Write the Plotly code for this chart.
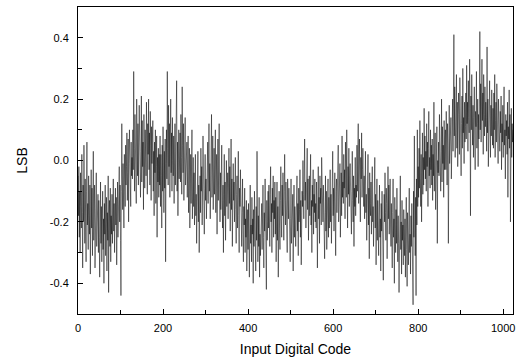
import plotly.graph_objects as go

# DNL-like error per input code (LSB), 16 codes per row
lsb = [
 -0.05,-0.18,-0.02,-0.25,-0.10,-0.30,-0.04,-0.15,-0.22,0.02,-0.17,-0.35,-0.08,-0.20,0.05,-0.12,
 -0.27,-0.06,-0.19,-0.33,-0.10,0.06,-0.21,-0.14,-0.29,-0.05,-0.18,-0.24,-0.08,-0.37,-0.12,-0.03,
 -0.22,-0.09,-0.31,-0.14,0.03,-0.26,-0.18,-0.08,-0.35,-0.12,-0.20,-0.04,-0.28,-0.16,-0.23,-0.11,
 -0.30,-0.13,-0.25,-0.38,-0.18,-0.07,-0.27,-0.15,-0.33,-0.22,-0.10,-0.29,-0.19,-0.40,-0.14,-0.24,
 -0.08,-0.31,-0.21,-0.12,-0.36,-0.17,-0.26,-0.05,-0.43,-0.20,-0.13,-0.28,-0.09,-0.33,-0.18,-0.24,
 -0.11,-0.27,-0.19,-0.06,-0.23,-0.14,-0.30,-0.16,-0.09,-0.21,-0.12,-0.34,-0.15,-0.07,-0.25,-0.18,
 -0.13,-0.02,-0.20,-0.08,-0.26,-0.44,-0.10,0.12,-0.05,-0.16,-0.01,-0.12,-0.22,0.02,-0.07,-0.15,
 0.05,-0.08,-0.02,0.09,-0.13,-0.04,0.07,-0.20,-0.01,0.10,-0.09,0.03,-0.15,0.06,-0.05,0.01,
 -0.06,0.10,-0.03,0.29,0.04,-0.10,0.15,-0.02,0.08,-0.14,0.20,0.01,-0.05,0.12,-0.08,0.06,
 0.18,-0.04,0.09,-0.12,0.03,0.21,-0.07,0.13,-0.02,0.06,-0.16,0.15,0.00,-0.09,0.10,0.04,
 -0.05,0.19,0.07,-0.11,0.12,0.02,0.20,-0.03,0.09,-0.08,0.16,0.05,-0.13,0.11,-0.01,0.07,
 0.13,-0.10,0.03,-0.18,0.06,-0.04,0.10,-0.14,-0.02,0.08,-0.25,0.01,-0.07,0.04,-0.12,0.02,
 -0.08,0.08,-0.15,0.02,-0.05,-0.22,0.05,-0.10,0.11,-0.03,-0.17,0.03,-0.09,0.07,-0.33,-0.01,
 0.10,-0.06,0.29,0.04,-0.08,0.18,-0.02,0.12,-0.12,0.06,0.20,-0.04,0.09,-0.10,0.14,0.00,
 -0.05,0.08,-0.14,0.03,0.12,-0.08,0.05,-0.02,0.26,-0.10,0.06,-0.18,0.02,0.10,-0.06,0.04,
 0.09,-0.07,0.15,0.01,-0.11,0.24,0.05,-0.04,0.12,-0.13,0.07,0.00,0.14,-0.08,0.03,-0.02,
 0.06,-0.12,-0.02,0.08,-0.17,-0.05,0.04,-0.22,-0.08,0.02,-0.14,-0.03,0.10,-0.19,-0.06,0.01,
 -0.15,-0.04,-0.21,-0.09,0.02,-0.18,-0.11,-0.27,-0.06,-0.14,0.03,-0.20,-0.08,-0.30,-0.12,-0.05,
 -0.17,0.04,-0.10,-0.02,-0.21,-0.07,0.08,-0.15,-0.04,-0.24,-0.09,0.02,-0.13,-0.06,-0.19,0.00,
 -0.08,0.06,-0.14,-0.03,0.12,-0.10,-0.01,-0.19,0.05,-0.07,0.15,-0.12,-0.04,0.08,-0.16,-0.02,
 0.04,-0.11,-0.03,0.10,-0.17,-0.06,0.02,-0.24,-0.09,0.07,-0.13,-0.01,0.12,-0.08,-0.20,-0.04,
 -0.16,-0.05,0.05,-0.13,-0.22,-0.08,-0.30,-0.11,0.02,-0.18,-0.07,-0.26,-0.10,0.00,-0.15,-0.09,
 -0.04,-0.19,-0.09,0.04,-0.14,-0.02,-0.23,-0.10,0.07,-0.16,-0.06,-0.28,-0.11,-0.01,-0.13,-0.07,
 -0.20,-0.08,0.01,-0.16,-0.27,-0.11,-0.05,-0.22,-0.14,0.03,-0.18,-0.30,-0.09,-0.15,-0.03,-0.21,
 -0.12,-0.28,-0.17,-0.06,-0.24,-0.33,-0.15,-0.21,-0.09,-0.30,-0.19,-0.25,-0.13,-0.36,-0.22,-0.16,
 -0.29,-0.14,-0.25,-0.38,-0.18,-0.08,-0.27,-0.21,-0.33,-0.12,-0.24,-0.19,-0.40,-0.16,-0.28,-0.10,
 -0.30,-0.20,-0.36,-0.15,-0.26,0.03,-0.22,-0.33,-0.18,-0.28,-0.12,-0.38,-0.24,-0.31,-0.19,-0.27,
 -0.14,-0.29,-0.21,-0.08,-0.25,-0.35,-0.17,-0.23,-0.06,-0.31,-0.19,-0.42,-0.13,-0.26,-0.20,-0.10,
 -0.22,-0.08,-0.18,-0.28,-0.11,-0.02,-0.20,-0.14,-0.30,-0.09,-0.17,-0.05,-0.25,-0.13,-0.19,-0.07,
 -0.24,-0.12,-0.33,-0.18,-0.07,-0.26,-0.15,-0.38,-0.20,-0.10,-0.22,-0.29,-0.13,-0.02,-0.19,-0.25,
 -0.08,-0.18,-0.04,-0.15,-0.26,-0.10,0.02,-0.13,-0.21,-0.07,-0.17,-0.11,-0.30,-0.06,-0.14,-0.19,
 -0.09,-0.24,-0.14,-0.33,-0.19,-0.06,-0.27,-0.16,-0.22,-0.11,-0.36,-0.18,-0.08,-0.25,-0.15,-0.21,
 -0.28,-0.12,-0.19,-0.05,-0.23,-0.14,-0.31,-0.09,-0.20,-0.16,-0.03,-0.25,-0.13,-0.34,-0.18,-0.10,
 -0.15,0.00,-0.11,-0.19,-0.04,0.07,-0.13,-0.07,-0.22,-0.02,-0.10,0.04,-0.16,-0.06,-0.26,-0.09,
 -0.05,-0.18,-0.10,0.02,-0.21,-0.13,-0.30,-0.08,-0.15,-0.03,-0.24,-0.11,-0.17,-0.06,-0.20,-0.14,
 -0.22,-0.07,-0.16,-0.35,-0.10,-0.02,-0.19,-0.12,-0.27,-0.05,-0.14,-0.09,-0.21,0.01,-0.15,-0.11,
 -0.20,-0.08,-0.26,-0.13,-0.32,-0.17,-0.05,-0.23,-0.10,-0.29,-0.15,-0.19,-0.06,-0.25,-0.12,-0.22,
 -0.16,-0.03,-0.20,-0.11,-0.27,-0.07,-0.14,0.03,-0.18,-0.09,-0.23,-0.12,-0.04,-0.19,-0.31,-0.10,
 -0.06,-0.17,-0.02,-0.13,0.05,-0.20,-0.09,-0.15,-0.01,-0.25,-0.11,-0.04,-0.18,0.08,-0.12,-0.07,
 -0.14,0.02,-0.09,-0.03,-0.19,0.06,-0.06,-0.12,0.10,-0.08,-0.22,-0.02,-0.11,0.04,-0.15,-0.05,
 -0.01,-0.16,-0.07,-0.24,-0.10,0.03,-0.13,-0.20,-0.05,-0.28,-0.09,-0.15,0.01,-0.18,-0.08,-0.12,
 0.05,-0.10,-0.02,0.12,-0.14,-0.04,0.07,-0.09,-0.20,0.01,-0.06,0.09,-0.12,-0.03,0.04,-0.08,
 -0.15,-0.05,-0.19,-0.08,0.03,-0.17,-0.11,-0.26,-0.06,-0.13,0.02,-0.21,-0.09,-0.32,-0.04,-0.14,
 -0.18,-0.07,-0.24,-0.12,-0.02,-0.20,-0.15,-0.28,-0.09,-0.16,0.01,-0.22,-0.11,-0.34,-0.14,-0.06,
 -0.26,-0.13,-0.22,-0.31,-0.17,-0.08,-0.25,-0.19,-0.36,-0.14,-0.23,-0.10,-0.29,-0.18,-0.39,-0.21,
 -0.11,-0.20,-0.04,-0.17,-0.26,-0.09,-0.14,-0.32,-0.12,-0.02,-0.19,-0.08,-0.24,-0.15,-0.06,-0.21,
 -0.28,-0.14,-0.23,-0.35,-0.17,-0.06,-0.25,-0.19,-0.40,-0.12,-0.22,-0.30,-0.16,-0.27,-0.09,-0.21,
 -0.33,-0.18,-0.27,-0.43,-0.15,-0.24,-0.05,-0.29,-0.20,-0.37,-0.13,-0.26,-0.21,-0.34,-0.16,-0.23,
 -0.31,-0.19,-0.38,-0.22,-0.12,-0.29,-0.41,-0.17,-0.26,-0.34,-0.21,-0.09,-0.30,-0.24,-0.37,-0.18,
 -0.28,-0.14,-0.35,-0.22,-0.47,-0.10,-0.25,0.08,-0.19,-0.31,-0.12,-0.44,-0.06,-0.21,0.10,-0.15,
 -0.02,-0.12,0.04,-0.09,0.13,-0.06,-0.15,0.02,-0.20,-0.04,0.09,-0.11,0.01,-0.08,0.17,-0.03,
 0.08,-0.06,0.03,-0.10,0.12,-0.02,0.06,-0.15,0.04,0.16,-0.05,0.01,-0.09,0.10,-0.03,0.05,
 -0.08,0.07,-0.13,0.02,-0.05,0.19,-0.10,-0.01,0.09,-0.16,0.04,-0.07,0.11,-0.27,0.00,-0.04,
 0.06,-0.05,0.15,-0.02,0.08,-0.10,0.03,0.20,-0.07,0.11,-0.01,0.05,-0.12,0.13,-0.03,0.07,
 0.10,-0.03,0.16,0.02,-0.08,0.12,0.05,-0.27,0.08,0.18,-0.01,0.09,0.03,0.14,-0.06,0.07,
 0.06,0.20,0.03,0.15,0.41,0.08,0.24,0.01,0.17,0.10,0.28,0.04,0.19,-0.02,0.13,0.22,
 0.15,0.02,0.27,0.08,0.18,-0.05,0.12,0.21,0.04,0.30,0.09,0.14,-0.01,0.19,0.06,0.11,
 0.22,0.07,0.31,0.12,0.19,0.03,0.26,0.14,0.09,0.33,0.17,-0.18,0.21,0.10,0.28,0.13,
 0.05,0.18,0.01,0.14,0.24,0.08,-0.03,0.16,0.11,0.29,0.04,0.12,0.20,-0.02,0.15,0.07,
 0.20,0.42,0.10,0.25,0.06,0.18,0.33,0.13,0.22,0.02,0.28,0.15,0.08,0.24,0.11,0.19,
 0.14,0.03,0.37,0.09,0.20,-0.02,0.16,0.06,0.26,0.11,0.01,0.18,0.08,0.23,0.12,0.05,
 0.17,0.04,0.22,0.10,0.28,0.01,0.13,0.19,0.06,0.25,0.09,0.15,-0.01,0.20,0.07,0.12,
 0.03,0.16,0.09,0.21,-0.03,0.12,0.06,0.18,0.01,0.14,0.24,0.05,0.10,-0.06,0.15,0.08,
 0.13,0.02,0.19,-0.12,0.11,0.07,0.23,0.04,0.15,-0.20,0.09,0.17,0.01,0.12,0.06,0.10,
]
codes = list(range(len(lsb)))

x_ticks = [0, 200, 400, 600, 800, 1000]
y_ticks = [-0.4, -0.2, 0.0, 0.2, 0.4]
y_tick_labels = ["-0.4", "-0.2", "0.0", "0.2", "0.4"]

font = "Liberation Sans, Arial, sans-serif"

fig = go.Figure(go.Scatter(x=codes, y=lsb, mode="lines",
                           line=dict(color="black", width=0.5), showlegend=False))

fig.update_layout(
    width=523, height=357,
    margin=dict(l=78, r=10, t=7, b=43, autoexpand=False),
    paper_bgcolor="white", plot_bgcolor="white",
    font=dict(family=font, size=11, color="black"),
)
fig.update_xaxes(
    range=[0, 1023], tickvals=x_ticks, ticks="inside", ticklen=5, tickwidth=1,
    tickcolor="black", showline=True, linecolor="black", linewidth=1, mirror=True,
    showgrid=False, zeroline=False, automargin=False,
    minor=dict(dtick=100, tick0=0, ticks="inside", ticklen=4, tickcolor="black", showgrid=False),
    title=dict(text="Input Digital Code", font=dict(size=14), standoff=10),
    ticklabelstandoff=4,
)
fig.update_yaxes(
    range=[-0.5, 0.5], tickvals=y_ticks, ticktext=y_tick_labels, ticks="inside", ticklen=5,
    tickwidth=1, tickcolor="black", showline=True, linecolor="black", linewidth=1,
    mirror=True, showgrid=False, zeroline=False, automargin=False,
    minor=dict(dtick=0.1, tick0=0, ticks="inside", ticklen=4, tickcolor="black", showgrid=False),
    title=dict(text="LSB", font=dict(size=14), standoff=18),
    ticklabelstandoff=6,
)

fig.write_html("out.html", config={"displayModeBar": False},
               post_script="document.body.style.margin='0';document.body.style.overflow='hidden';")
